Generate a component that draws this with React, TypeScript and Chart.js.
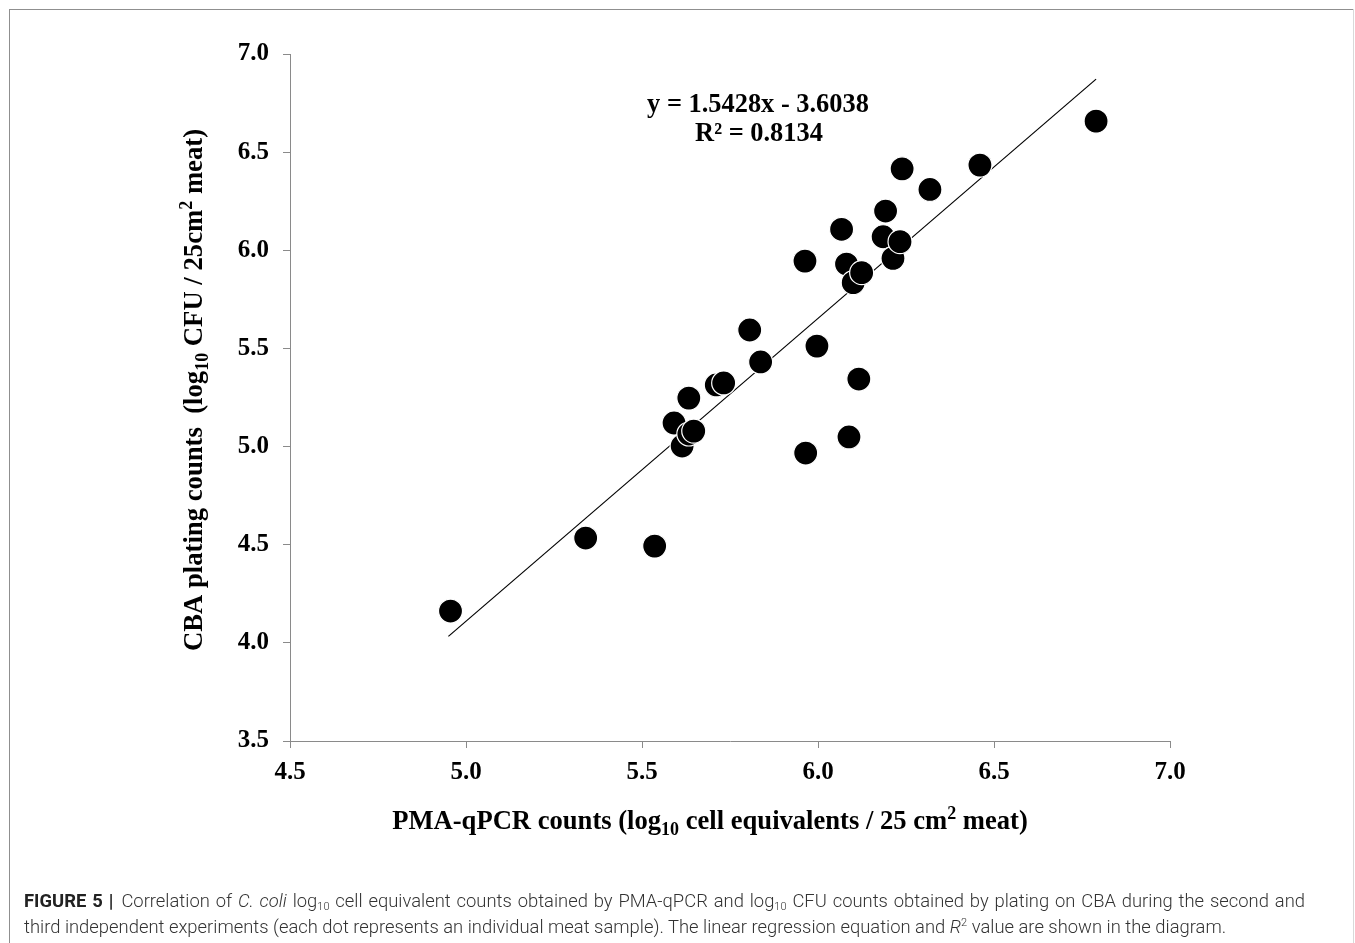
import React, { useEffect, useRef } from "react";
import { Chart, registerables } from "chart.js";

Chart.register(...registerables);

// PMA-qPCR counts (log10 cell equivalents / 25 cm2 meat)
const pmaQpcr = [
  4.956, 5.34, 5.536, 5.591, 5.614, 5.633, 5.647, 5.633, 5.711, 5.732,
  5.806, 5.837, 5.963, 5.965, 5.997, 6.067, 6.081, 6.088, 6.1, 6.124,
  6.116, 6.192, 6.185, 6.213, 6.233, 6.239, 6.318, 6.46, 6.79,
];
// CBA plating counts (log10 CFU / 25cm2 meat)
const cbaPlating = [
  4.162, 4.534, 4.493, 5.12, 5.003, 5.064, 5.079, 5.247, 5.314, 5.324,
  5.594, 5.431, 5.945, 4.967, 5.512, 6.107, 5.93, 5.049, 5.835, 5.886,
  5.344, 6.2, 6.069, 5.959, 6.044, 6.415, 6.31, 6.434, 6.658,
];
// Linear trend line end points (y = 1.5428x - 3.6038)
const trendX = [4.95, 6.79];
const trendY = [4.033, 6.872];

const xTicks = [4.5, 5.0, 5.5, 6.0, 6.5, 7.0];
const yTicks = [3.5, 4.0, 4.5, 5.0, 5.5, 6.0, 6.5, 7.0];
const equationLines = ["y = 1.5428x - 3.6038", "R² = 0.8134"];

type Run = { t: string; k: "n" | "sub" | "sup" };
const xTitleRuns: Run[] = [
  { t: "PMA-qPCR counts (log", k: "n" },
  { t: "10", k: "sub" },
  { t: " cell equivalents / 25 cm", k: "n" },
  { t: "2", k: "sup" },
  { t: " meat)", k: "n" },
];
const yTitleRuns: Run[] = [
  { t: "CBA plating counts  (log", k: "n" },
  { t: "10", k: "sub" },
  { t: " CFU / 25cm", k: "n" },
  { t: "2", k: "sup" },
  { t: " meat)", k: "n" },
];

const SERIF = '"Liberation Serif", "Times New Roman", serif';

function drawRuns(ctx: CanvasRenderingContext2D, runs: Run[], cx: number, baseY: number, size: number) {
  const fontN = `bold ${size}px ${SERIF}`;
  const fontS = `bold ${Math.round(size * 0.66)}px ${SERIF}`;
  let total = 0;
  const widths = runs.map((r) => {
    ctx.font = r.k === "n" ? fontN : fontS;
    const w = ctx.measureText(r.t).width;
    total += w;
    return w;
  });
  let x = cx - total / 2;
  ctx.textAlign = "left";
  ctx.textBaseline = "alphabetic";
  runs.forEach((r, i) => {
    ctx.font = r.k === "n" ? fontN : fontS;
    const dy = r.k === "sub" ? 6 : r.k === "sup" ? -10 : 0;
    ctx.fillText(r.t, x, baseY + dy);
    x += widths[i];
  });
}

const annotationPlugin = {
  id: "annotations",
  afterDraw(chart: any) {
    const ctx: CanvasRenderingContext2D = chart.ctx;
    ctx.save();
    ctx.fillStyle = "#000";
    // equation
    ctx.font = `bold 26.4px ${SERIF}`;
    ctx.textAlign = "center";
    ctx.textBaseline = "alphabetic";
    ctx.fillText(equationLines[0], 758, 112);
    ctx.fillText(equationLines[1], 759, 141);
    // x title
    drawRuns(ctx, xTitleRuns, 710, 829, 26.6);
    // y title
    ctx.save();
    ctx.translate(202, 390);
    ctx.rotate(-Math.PI / 2);
    drawRuns(ctx, yTitleRuns, 0, 0, 26.7);
    ctx.restore();
    ctx.restore();
  },
};

export default function App() {
  const canvasRef = useRef<HTMLCanvasElement | null>(null);

  useEffect(() => {
    if (!canvasRef.current) return;
    const scatterData = pmaQpcr.map((x, i) => ({ x, y: cbaPlating[i] }));
    const trendData = trendX.map((x, i) => ({ x, y: trendY[i] }));
    const axisColor = "#8a8a8a";
    const tickFont = { family: SERIF, size: 25, weight: "bold" as const };
    const chart = new Chart(canvasRef.current, {
      type: "scatter",
      data: {
        datasets: [
          {
            label: "Samples",
            data: scatterData,
            pointRadius: 12,
            pointHoverRadius: 12,
            backgroundColor: "#000",
            borderColor: "#fff",
            borderWidth: 1.2,
          },
          {
            type: "line" as any,
            label: "Trend",
            data: trendData,
            showLine: true,
            pointRadius: 0,
            borderColor: "#000",
            borderWidth: 1.2,
            fill: false,
          } as any,
        ],
      },
      options: {
        responsive: false,
        animation: false,
        events: [],
        layout: { padding: { left: 0, top: 54, right: 185, bottom: 152 } },
        plugins: {
          legend: { display: false },
          tooltip: { enabled: false },
        },
        scales: {
          x: {
            type: "linear",
            min: 4.5,
            max: 7.0,
            afterBuildTicks: (s: any) => {
              s.ticks = xTicks.map((v) => ({ value: v }));
            },
            afterFit: (s: any) => {
              s.height = 50;
            },
            ticks: {
              font: tickFont,
              color: "#000",
              padding: 10,
              maxRotation: 0,
              callback: (v: any) => Number(v).toFixed(1),
            },
            grid: {
              display: true,
              drawOnChartArea: false,
              drawTicks: true,
              tickLength: 7,
              color: axisColor,
            },
            border: { display: true, color: axisColor, width: 1 },
          },
          y: {
            type: "linear",
            min: 3.5,
            max: 7.0,
            afterBuildTicks: (s: any) => {
              s.ticks = yTicks.map((v) => ({ value: v }));
            },
            afterFit: (s: any) => {
              s.width = 290;
            },
            ticks: {
              font: tickFont,
              color: "#000",
              padding: 14,
              callback: (v: any) => Number(v).toFixed(1),
            },
            grid: {
              display: true,
              drawOnChartArea: false,
              drawTicks: true,
              tickLength: 7,
              color: axisColor,
            },
            border: { display: true, color: axisColor, width: 1 },
          },
        },
      },
      plugins: [annotationPlugin],
    });
    return () => chart.destroy();
  }, []);

  const capFont = '"Roboto", "Liberation Sans", Arial, sans-serif';
  const lineStyle: React.CSSProperties = {
    position: "absolute",
    left: 24,
    whiteSpace: "nowrap",
    fontFamily: capFont,
    fontSize: 18.4,
    fontWeight: 300,
    color: "#333",
    lineHeight: "20px",
  };
  const sub: React.CSSProperties = { fontSize: 11, verticalAlign: "-3px", lineHeight: 0 };
  const sup: React.CSSProperties = { fontSize: 11, verticalAlign: "7px", lineHeight: 0 };

  return (
    <div
      style={{
        position: "absolute",
        left: 0,
        top: 0,
        width: 1355,
        height: 943,
        background: "#fff",
        overflow: "hidden",
      }}
    >
      <div style={{ position: "absolute", left: 9, top: 9, width: 1345, height: 1, background: "#8f8f8f" }} />
      <div style={{ position: "absolute", left: 9, top: 9, width: 1, height: 934, background: "#8f8f8f" }} />
      <div style={{ position: "absolute", left: 1353, top: 9, width: 1, height: 934, background: "#d9d9d9" }} />
      <canvas
        ref={canvasRef}
        width={1355}
        height={943}
        style={{ position: "absolute", left: 0, top: 0, width: 1355, height: 943 }}
      />
      <div
        style={{
          ...lineStyle,
          top: 891,
          width: 1281,
          whiteSpace: "normal",
          textAlign: "justify",
          textAlignLast: "justify",
          height: 20,
          overflow: "visible",
        }}
      >
        <span style={{ fontWeight: 700, color: "#222" }}>FIGURE 5</span>
        <span style={{ fontWeight: 700, color: "#222", margin: "0 8px 0 6px" }}>|</span>
        Correlation of <i>C. coli</i> log<span style={sub}>10</span> cell equivalent counts obtained by
        PMA-qPCR and log<span style={sub}>10</span> CFU counts obtained by plating on CBA during the
        second and
      </div>
      <div style={{ ...lineStyle, top: 917 }}>
        third independent experiments (each dot represents an individual meat sample). The linear
        regression equation and <i>R</i>
        <span style={sup}>2</span> value are shown in the diagram.
      </div>
    </div>
  );
}
